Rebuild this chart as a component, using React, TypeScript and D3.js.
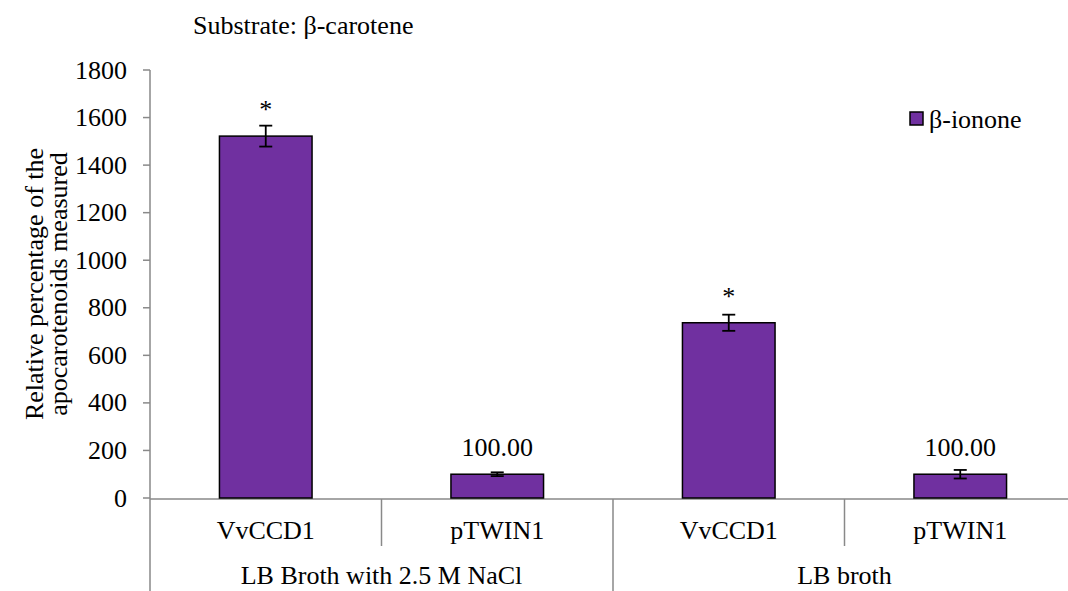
import { useEffect, useRef } from 'react';
import { range, scaleBand, scaleLinear, select } from 'd3';

const groups = ['LB Broth with 2.5 M NaCl', 'LB broth'];
const strains = ['VvCCD1', 'pTWIN1', 'VvCCD1', 'pTWIN1'];
const groupOf = [0, 0, 1, 1];
const ionone = [1522, 100, 737, 100];
const errors = [44, 8, 34, 18];
const labels = ['*', '100.00', '*', '100.00'];
const yTicks = range(0, 1801, 200);

const W = 1068;
const H = 591;
const font = '"Liberation Serif", "Times New Roman", serif';
const fs = 26;
const purple = '#7030A0';
const axisColor = '#898989';

const App = () => {
  const svgRef = useRef<SVGSVGElement>(null);

  useEffect(() => {
    const svg = select(svgRef.current);
    svg.selectAll('*').remove();

    const x = scaleBand<number>()
      .domain(range(strains.length))
      .range([150, 1076])
      .padding(0);
    const y = scaleLinear().domain([0, 1800]).range([498, 70]);
    const barW = x.bandwidth() * 0.4;

    const g = svg.append('g').attr('font-family', font).attr('fill', '#000');

    // title
    g.append('text')
      .attr('x', 193)
      .attr('y', 34)
      .attr('font-size', fs)
      .text('Substrate: β-carotene');

    // y axis
    g.append('line')
      .attr('x1', 150)
      .attr('x2', 150)
      .attr('y1', y(1800))
      .attr('y2', H)
      .attr('stroke', axisColor)
      .attr('stroke-width', 1.5);
    g.selectAll('.ytick')
      .data(yTicks)
      .join('line')
      .attr('class', 'ytick')
      .attr('x1', 143)
      .attr('x2', 150)
      .attr('y1', (d) => y(d))
      .attr('y2', (d) => y(d))
      .attr('stroke', axisColor)
      .attr('stroke-width', 1.5);
    g.selectAll('.ylab')
      .data(yTicks)
      .join('text')
      .attr('class', 'ylab')
      .attr('x', 127)
      .attr('y', (d) => y(d))
      .attr('dy', '0.33em')
      .attr('text-anchor', 'end')
      .attr('font-size', fs)
      .text((d) => d);

    // y title
    const yt = g
      .append('text')
      .attr('transform', `translate(0, ${(y(0) + y(1800)) / 2}) rotate(-90)`)
      .attr('text-anchor', 'middle')
      .attr('font-size', fs);
    yt.append('tspan').attr('x', 0).attr('y', 43).text('Relative percentage of the');
    yt.append('tspan').attr('x', 0).attr('y', 67).text('apocarotenoids measured');

    // x axis
    g.append('line')
      .attr('x1', 150)
      .attr('x2', W)
      .attr('y1', y(0) + 1)
      .attr('y2', y(0) + 1)
      .attr('stroke', axisColor)
      .attr('stroke-width', 1.5);

    // category dividers
    strains.forEach((_, i) => {
      if (i === 0) return;
      const xe = x(i)!;
      const outer = groupOf[i] !== groupOf[i - 1];
      g.append('line')
        .attr('x1', xe)
        .attr('x2', xe)
        .attr('y1', y(0) + 1)
        .attr('y2', outer ? H : 546)
        .attr('stroke', axisColor)
        .attr('stroke-width', 1.5);
    });
    g.append('line')
      .attr('x1', x(3)! + x.bandwidth())
      .attr('x2', x(3)! + x.bandwidth())
      .attr('y1', y(0) + 1)
      .attr('y2', H)
      .attr('stroke', axisColor)
      .attr('stroke-width', 1.5);

    g.selectAll('.xlab')
      .data(strains)
      .join('text')
      .attr('class', 'xlab')
      .attr('x', (_, i) => x(i)! + x.bandwidth() / 2)
      .attr('y', 539)
      .attr('text-anchor', 'middle')
      .attr('font-size', fs)
      .text((d) => d);

    g.selectAll('.glab')
      .data(groups)
      .join('text')
      .attr('class', 'glab')
      .attr('x', (_, gi) => {
        const idx = groupOf.map((v, i) => (v === gi ? i : -1)).filter((i) => i >= 0);
        const a = x(idx[0])!;
        const b = x(idx[idx.length - 1])! + x.bandwidth();
        return (a + b) / 2;
      })
      .attr('y', 584)
      .attr('text-anchor', 'middle')
      .attr('font-size', fs)
      .text((d) => d);

    // bars
    g.selectAll('.bar')
      .data(ionone)
      .join('rect')
      .attr('class', 'bar')
      .attr('x', (_, i) => x(i)! + (x.bandwidth() - barW) / 2)
      .attr('y', (d) => y(d))
      .attr('width', barW)
      .attr('height', (d) => y(0) - y(d))
      .attr('fill', purple)
      .attr('stroke', '#000')
      .attr('stroke-width', 1.5);

    // error bars
    const eb = g
      .selectAll('.err')
      .data(ionone)
      .join('g')
      .attr('class', 'err')
      .attr('transform', (_, i) => `translate(${x(i)! + x.bandwidth() / 2},0)`)
      .attr('stroke', '#000')
      .attr('stroke-width', 1.8);
    eb.append('line')
      .attr('y1', (d, i) => y(d + errors[i]))
      .attr('y2', (d, i) => y(d - errors[i]));
    eb.append('line')
      .attr('x1', -6.5)
      .attr('x2', 6.5)
      .attr('y1', (d, i) => y(d + errors[i]))
      .attr('y2', (d, i) => y(d + errors[i]));
    eb.append('line')
      .attr('x1', -6.5)
      .attr('x2', 6.5)
      .attr('y1', (d, i) => y(d - errors[i]))
      .attr('y2', (d, i) => y(d - errors[i]));

    // data labels
    g.selectAll('.dlab')
      .data(ionone)
      .join('text')
      .attr('class', 'dlab')
      .attr('x', (_, i) => x(i)! + x.bandwidth() / 2)
      .attr('y', (d) => y(d) - 18)
      .attr('text-anchor', 'middle')
      .attr('font-size', fs)
      .text((_, i) => labels[i]);

    // legend
    g.append('rect')
      .attr('x', 910)
      .attr('y', 112)
      .attr('width', 13)
      .attr('height', 13)
      .attr('fill', purple)
      .attr('stroke', '#000')
      .attr('stroke-width', 1.5);
    g.append('text')
      .attr('x', 929)
      .attr('y', 128)
      .attr('font-size', fs)
      .text('β-ionone');
  }, []);

  return (
    <svg
      ref={svgRef}
      width={W}
      height={H}
      style={{ position: 'absolute', left: 0, top: 0, background: '#fff' }}
    />
  );
};

export default App;
